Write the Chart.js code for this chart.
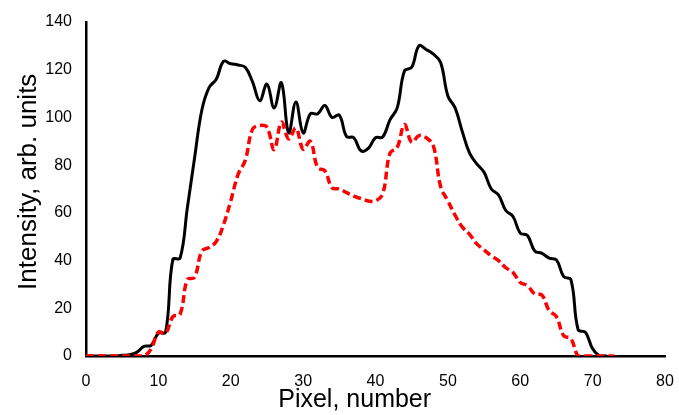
<!DOCTYPE html>
<html>
<head>
<meta charset="utf-8">
<script src="https://cdn.jsdelivr.net/npm/chart.js@4/dist/chart.umd.min.js"></script>
<style>
  html, body { margin: 0; padding: 0; background: #fff; }
  #wrap { width: 679px; height: 415px; }
</style>
</head>
<body>
<div id="wrap"><canvas id="profile"></canvas></div>
<script>
const pixels = [0, 1, 2, 3, 4, 5, 6, 7, 8, 9, 10, 11, 12, 13, 14, 15, 16, 17, 18, 19,
  20, 21, 22, 23, 24, 25, 26, 27, 28, 29, 30, 31, 32, 33, 34, 35, 36, 37, 38, 39,
  40, 41, 42, 43, 44, 45, 46, 47, 48, 49, 50, 51, 52, 53, 54, 55, 56, 57, 58, 59,
  60, 61, 62, 63, 64, 65, 66, 67, 68, 69, 70, 71, 72, 73]

const blackCurve = [0, 0, 0, 0, 0, 0.3, 0.5, 1.5, 4, 4.5, 9.5, 10, 40.5, 41, 62, 83, 103, 112.5, 116, 123.5,
  122.5, 122, 121, 115, 107, 114, 104, 114.5, 93.5, 106.5, 93.5, 101.5, 101.5, 105, 100, 101, 92, 91.5, 86, 87,
  91.5, 91.8, 99, 104, 119.5, 121, 130, 128.5, 126.5, 123, 109, 104, 94, 85, 80.5, 77, 70, 67.5, 61, 58.5,
  51.5, 50.5, 44, 43, 41, 40.3, 33.3, 32, 11, 10, 3, 0, 0, null]

const redCurve = [0, 0, 0, 0, 0, 0, 0, 0, 0, 3, 10, 9.5, 16.5, 17.5, 32, 33, 44, 45.5, 48, 55,
  65, 76, 82, 95, 96.6, 95.9, 86.5, 98, 91, 95.5, 86.7, 90, 79, 77.6, 70.5, 70, 68.5, 67, 66, 65,
  65, 68, 85, 87.5, 97, 89.6, 92.4, 91.5, 88, 71, 65, 59, 54, 51, 47, 44.5, 42, 40, 37, 35,
  30.8, 29.5, 26, 25.5, 19, 16.5, 8.5, 7.3, 0, 0, 0, 0, 0, 0]

const xTicks = [0, 10, 20, 30, 40, 50, 60, 70, 80]
const yTicks = [0, 20, 40, 60, 80, 100, 120, 140]

const toPoints = vals => pixels.map((p, i) => ({ x: p, y: vals[i] }))

const fontFamily = 'Liberation Sans, Arial, sans-serif'
const tickFont = { family: fontFamily, size: 16 }

// the axis titles sit a little off-centre in the original, nudged with no-break spaces
const nb = n => '\u00a0'.repeat(n)

new Chart(document.getElementById('profile'), {
  type: 'line',
  data: {
    datasets: [
      {
        label: 'red',
        data: toPoints(redCurve),
        borderColor: '#ff0000',
        borderWidth: 3.5,
        borderDash: [8, 4],
        pointRadius: 0,
        tension: 0.4,
        fill: false
      },
      {
        label: 'black',
        data: toPoints(blackCurve),
        borderColor: '#000000',
        borderWidth: 3,
        pointRadius: 0,
        tension: 0.4,
        fill: false
      }
    ]
  },
  options: {
    responsive: true,
    maintainAspectRatio: false,
    animation: false,
    layout: { padding: { top: 22, right: 14, left: 0, bottom: 0 } },
    plugins: { legend: { display: false }, tooltip: { enabled: false } },
    scales: {
      x: {
        type: 'linear',
        min: 0,
        max: 80,
        afterBuildTicks: s => { s.ticks = xTicks.map(v => ({ value: v })) },
        grid: { display: false, drawTicks: false },
        border: { display: true, color: '#000', width: 2.5 },
        ticks: { color: '#000', font: tickFont, padding: 16 },
        afterFit: s => { s.height = 59; s.paddingLeft = 0; s.paddingRight = 0 },
        title: {
          display: true,
          text: 'Pixel, number' + nb(6),
          color: '#000',
          font: { family: fontFamily, size: 25 },
          padding: { top: 0, bottom: 0 }
        }
      },
      y: {
        min: 0,
        max: 140,
        afterBuildTicks: s => { s.ticks = yTicks.map(v => ({ value: v })) },
        grid: { display: false, drawTicks: false },
        border: { display: true, color: '#000', width: 2.5 },
        ticks: { color: '#000', font: tickFont, padding: 14 },
        afterFit: s => { s.width = 86; s.paddingTop = 0; s.paddingBottom = 0 },
        title: {
          display: true,
          text: nb(2) + 'Intensity, arb. units',
          color: '#000',
          font: { family: fontFamily, size: 26 },
          padding: { top: 13, bottom: 0 }
        }
      }
    }
  }
})
</script>
</body>
</html>
